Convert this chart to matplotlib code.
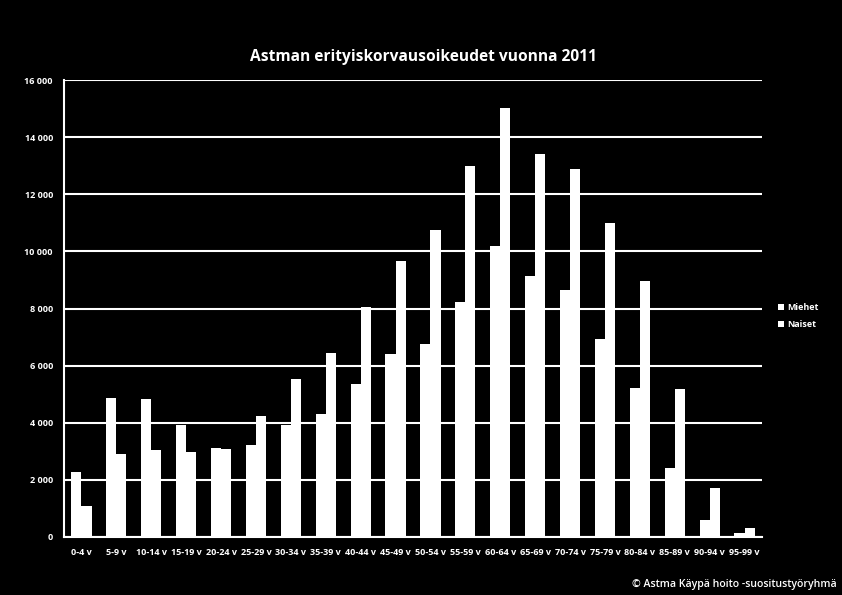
import matplotlib
matplotlib.use("Agg")
import matplotlib.pyplot as plt
import numpy as np
from matplotlib.ticker import FuncFormatter

categories = ["0-4 v", "5-9 v", "10-14 v", "15-19 v", "20-24 v", "25-29 v", "30-34 v",
              "35-39 v", "40-44 v", "45-49 v", "50-54 v", "55-59 v", "60-64 v", "65-69 v",
              "70-74 v", "75-79 v", "80-84 v", "85-89 v", "90-94 v", "95-99 v"]
miehet = [2280, 4870, 4830, 3920, 3115, 3220, 3920, 4300, 5360, 6400, 6760, 8230,
          10190, 9140, 8650, 6930, 5220, 2420, 600, 140]
naiset = [1090, 2900, 3050, 2980, 3080, 4240, 5530, 6440, 8050, 9660, 10750, 12990,
          15020, 13410, 12880, 10990, 8960, 5180, 1720, 320]

plt.rcParams['font.family'] = ['Open Sans', 'DejaVu Sans']
fig = plt.figure(figsize=(8.42, 5.95), dpi=100, facecolor='black')
ax = fig.add_axes([64/842, 1-537/595, (762-64)/842, (537-80)/595], facecolor='black')

x = np.arange(len(categories))
w = 0.29
ax.bar(x - w/2, miehet, w, color='white', label='Miehet', zorder=3)
ax.bar(x + w/2, naiset, w, color='white', label='Naiset', zorder=3)

ax.set_xlim(-0.5, len(categories) - 0.5)
ax.set_ylim(0, 16000)
ax.set_yticks(np.arange(0, 16001, 2000))
ax.yaxis.set_major_formatter(FuncFormatter(lambda v, p: f"{int(v):,}".replace(",", " ")))
ax.set_xticks(x)
ax.set_xticklabels(categories)
ax.grid(axis='y', color='white', linewidth=1.5, zorder=0)
for s in ['top', 'right']:
    ax.spines[s].set_visible(False)
for s in ['left', 'bottom']:
    ax.spines[s].set_color('white')
    ax.spines[s].set_linewidth(1.5)
ax.tick_params(axis='both', length=0, colors='white', labelsize=6.5, pad=8)
for lab in ax.get_xticklabels() + ax.get_yticklabels():
    lab.set_fontweight('bold')

fig.text(423/842, 1-57/595, "Astman erityiskorvausoikeudet vuonna 2011", color='white',
         fontsize=11.2, fontweight='bold', ha='center', va='center')
fig.text(837/842, 1-584/595, "© Astma Käypä hoito -suositustyöryhmä", color='white',
         fontsize=7.6, fontweight='semibold', ha='right', va='center')

leg = ax.legend(loc='center left', bbox_to_anchor=(770/842, 1-316/595),
                bbox_transform=fig.transFigure, frameon=False, fontsize=6.5,
                handlelength=0.7, handleheight=0.7, handletextpad=0.3, labelspacing=0.9)
for t in leg.get_texts():
    t.set_color('white')
    t.set_fontweight('bold')

fig.savefig("out.png", dpi=100, facecolor='black')
